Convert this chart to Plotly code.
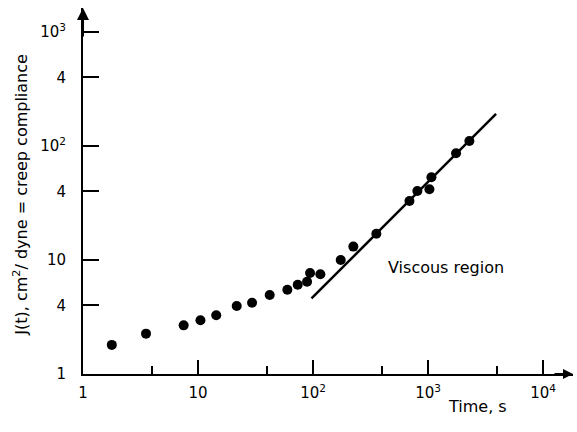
import plotly.graph_objects as go

# data
time_s = [1.78, 3.53, 7.5, 10.5, 14.4, 21.7, 29.5, 42, 59.8, 73.6, 88.7, 94.2, 115.8,
          174, 224, 355, 689, 807, 1027, 1069, 1751, 2287]
compliance = [1.80, 2.26, 2.67, 2.96, 3.27, 3.95, 4.22, 4.93, 5.49, 6.07, 6.45, 7.69, 7.49,
              10.0, 13.1, 17.0, 32.9, 40.3, 41.7, 53.1, 86.3, 110.6]
line_t = [97, 3900]
line_J = [4.6, 191]

x_tickvals = [1, 10, 100, 1000, 10000]
x_ticktext = ["1", "10", "10<sup>2</sup>", "10<sup>3</sup>", "10<sup>4</sup>"]
x_minor = [4, 40, 400, 4000]
y_tickvals = [1, 4, 10, 40, 100, 400, 1000]
y_ticktext = ["1", "4", "10", "4", "10<sup>2</sup>", "4", "10<sup>3</sup>"]

FONT = "DejaVu Sans"

fig = go.Figure()
fig.add_trace(go.Scatter(x=line_t, y=line_J, mode="lines",
                         line=dict(color="black", width=2.5), showlegend=False))
fig.add_trace(go.Scatter(x=time_s, y=compliance, mode="markers",
                         marker=dict(color="black", size=10), showlegend=False))

fig.update_layout(
    width=577, height=432,
    margin=dict(l=83, r=4, t=8, b=58),
    paper_bgcolor="white", plot_bgcolor="white",
    font=dict(family=FONT, color="black", size=14),
    xaxis=dict(type="log", range=[0, 4.26], showgrid=False, zeroline=False,
               showline=True, linecolor="black", linewidth=2,
               tickmode="array", tickvals=x_tickvals, ticktext=x_ticktext,
               ticks="inside", ticklen=14, tickwidth=1.5, tickcolor="black",
               ticklabelstandoff=4,
               minor=dict(tickmode="array", tickvals=x_minor, ticks="inside",
                          ticklen=8, tickwidth=1.5, tickcolor="black", showgrid=False),
               tickfont=dict(size=15)),
    yaxis=dict(type="log", range=[0, 3.21], showgrid=False, zeroline=False,
               showline=True, linecolor="black", linewidth=2,
               tickmode="array", tickvals=y_tickvals, ticktext=y_ticktext,
               ticks="inside", ticklen=16, tickwidth=1.5, tickcolor="black",
               ticklabelstandoff=12, tickfont=dict(size=15)),
    annotations=[
        dict(text="Viscous region", x=3.16, y=0.93, xref="x", yref="y",
             showarrow=False, font=dict(size=16)),
        dict(text="Time, s", x=0.87, y=-0.12, xref="paper", yref="paper",
             showarrow=False, font=dict(size=16)),
        dict(text="J(t), cm<sup>2</sup>/ dyne = creep compliance", x=-0.152, y=0.49,
             xref="paper", yref="paper", textangle=-90, showarrow=False,
             font=dict(size=16)),
        dict(x=0, y=1, xref="paper", yref="paper", ax=0, ay=30, showarrow=True,
             arrowhead=2, arrowsize=1.2, arrowwidth=2, arrowcolor="black", text=""),
        dict(x=1, y=0, xref="paper", yref="paper", ax=-20, ay=0, showarrow=True,
             arrowhead=2, arrowsize=1, arrowwidth=2, arrowcolor="black", text=""),
    ],
)
fig.write_html("out.html")
